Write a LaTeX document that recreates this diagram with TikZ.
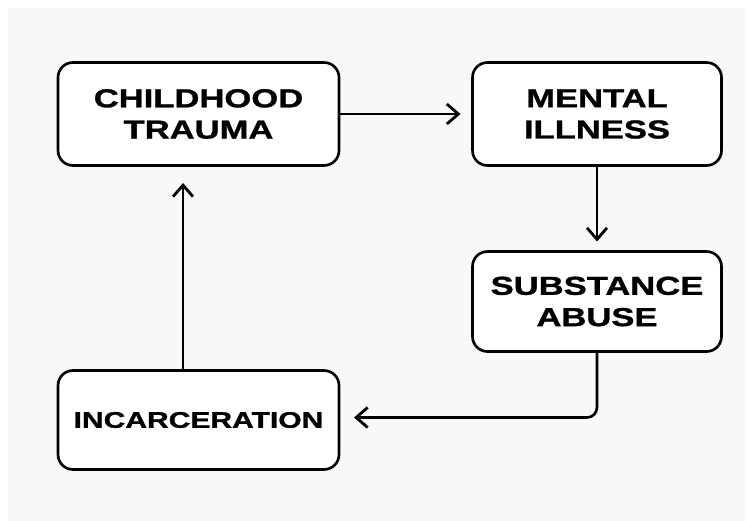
\documentclass[tikz,border=0pt]{standalone}
\usepackage{fontspec}
\newfontfamily\boxfont[FakeStretch=1.33,FakeBold=1.2]{Liberation Sans}
\usetikzlibrary{positioning,arrows.meta}
\definecolor{paper}{HTML}{F8F8F8}
\tikzset{
  stage/.style={
    draw, line width=1.5pt, rounded corners=0.3cm, fill=white, outer sep=0pt,
    align=center, inner sep=0pt,
    font=\boxfont\bfseries\fontsize{14.8}{17.8}\selectfont
  },
  flow/.style={
    line width=1.5pt,
    -{Straight Barb[length=2.3mm,width=4mm,line width=1.6pt]}
  }
}

\begin{document}
\begin{tikzpicture}
	\useasboundingbox (0,0) rectangle (15,-10.42);
	\fill[paper] (0.16,-0.16) rectangle (14.9,-10.42);
	% the four stages of the cycle
	\node(trauma) [stage,minimum width=5.62cm,minimum height=2.06cm] at (3.97,-2.28) {CHILDHOOD\\TRAUMA};
	\node(mental) [stage,right=2.67cm of trauma,minimum width=4.98cm,minimum height=2.06cm] {MENTAL\\ILLNESS};
	\node(abuse) [stage,below=1.72cm of mental,minimum width=4.98cm,minimum height=2.0cm] {SUBSTANCE\\ABUSE};
	\node(prison) [stage,below=4.1cm of trauma,minimum width=5.62cm,minimum height=1.98cm,
		font=\boxfont\bfseries\fontsize{12.85}{15}\selectfont] {INCARCERATION};
	% arrows
	\draw[flow,shorten >=0.24cm] (trauma.east) -- (mental.west);
	\draw[flow,shorten >=0.2cm] (mental.south) -- (abuse.north);
	\draw[flow,shorten >=0.3cm,rounded corners=0.2cm] (abuse.south) |- ([yshift=0.05cm]prison.east);
	\draw[flow,shorten >=0.35cm] ([xshift=-0.31cm]prison.north) -- ([xshift=-0.31cm]trauma.south);
\end{tikzpicture}
\end{document}
